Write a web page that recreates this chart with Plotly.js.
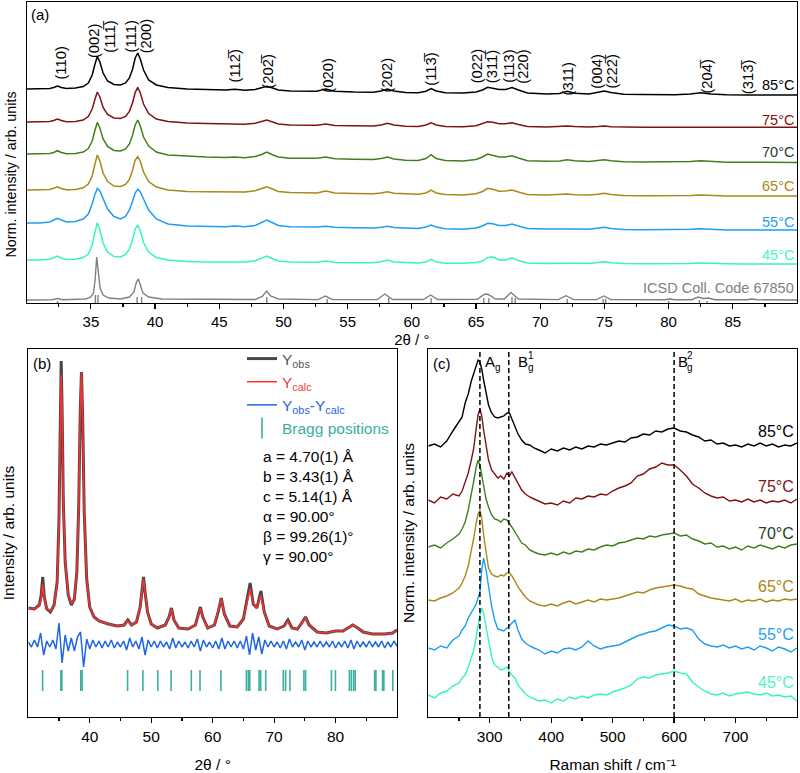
<!DOCTYPE html>
<html><head><meta charset="utf-8">
<script src="https://cdn.plot.ly/plotly-3.0.1.min.js"></script>
<style>html,body{margin:0;padding:0;background:#fff}#chart{width:800px;height:773px}</style>
</head><body><div id="chart"></div>
<script>
// ---------------- Panel (a): XRD patterns ----------------
const xrdAngles = [30,31,31.8,32.1,32.4,32.7,33.1,33.8,34.4,34.8,
35.1,35.3,35.5,35.7,35.95,36.3,36.8,37.3,37.7,38.0,
38.25,38.45,38.65,38.85,39.1,39.5,40.1,41,42.5,44,
45.5,46.2,47,47.8,48.3,48.7,49.1,49.6,50.5,51.5,
52.6,53.3,54,55.5,57,57.6,58.1,58.6,59.5,60.5,
61.1,61.5,61.9,62.6,64,65,65.5,65.9,66.3,66.8,
67.3,67.8,68.3,69,70.5,71.5,72.1,72.7,73.8,74.5,
75.0,75.5,76.5,78,79.5,80.5,81.7,82.5,83.3,84.5,
86,87.5,89,90];
const xrdTemps = ['85°C','75°C','70°C','65°C','55°C','45°C'];
const xrd85 = [0,0,0.5,1.5,3,1.5,0.5,1,2.5,6,
14,24,32.5,27,16,8,4.5,4,6,11,
20,31,36,30,19,9,4,1.5,0,-0.5,
-1,-0.3,-1.3,-0.5,1.2,2.8,1.2,-1,-2,-2.3,
-2.2,0,-2.3,-3,-3.2,-2,0,-2,-3.5,-3.7,
-2.2,0.5,-2,-3.8,-4,-3,-1,1.7,1,-0.5,
-0.5,1.4,-1,-4,-5,-4.5,-2.2,-4.2,-5,-3.5,
-1.9,-3.5,-5.3,-5.6,-5.7,-5.7,-5,-3.8,-5,-5.8,
-6,-6,-6,-6];
const xrd75 = [0,0,0.5,1.5,3,1.5,0.3,0.5,2,5.5,
13,22,30,25,14.5,7.5,4,3.5,5.5,10.5,
19.5,29.5,34.7,29,18,8.5,3,0.5,-1,-1.5,
-2,-1.5,-2.2,-1.2,0.5,2,0.3,-2,-3,-3.3,
-3.2,-2,-3.4,-3.8,-4,-3,-1.3,-3,-4.2,-4.4,
-3,-0.7,-3,-4.5,-4.7,-3.8,-1.8,0.3,-0.3,-1.8,
-1.8,-0.7,-2.5,-4.5,-5,-4.7,-4,-4.6,-5,-4.5,
-4,-4.7,-5.2,-5.3,-5.3,-5.3,-5,-4.6,-5,-5.3,
-5.3,-5.3,-5.3,-5.3];
const xrd70 = [0,0,0.5,1.5,3.3,1.5,0.3,0.5,2,5.5,
13,23,31.5,26,15,7.5,3.5,3,5,10,
19,29,34,28,17,8,2,-1,-2.3,-3,
-3.5,-3,-3.7,-2.5,-0.5,2,-0.5,-3,-4.2,-4.5,
-4.3,-3,-4.7,-5.3,-5.5,-4.5,-3,-5,-6.3,-6.5,
-4.5,-0.7,-4.5,-6.5,-7,-5.5,-3,0,-1,-3,
-3,-1.7,-4,-6.8,-7.3,-7,-5.7,-6.8,-7.5,-6.5,
-5.7,-6.8,-7.7,-8,-8,-8,-7.5,-6.7,-7.5,-8.2,
-8.3,-8.5,-8.5,-8.5];
const xrd65 = [0,0,0.5,1.8,3.3,1.5,0.3,0.5,2.2,6,
14,25,35,29,17,8.5,4,3.5,5.5,10.5,
20,30,33.3,28.5,18,8.5,3,0,-1.5,-1.8,
-2,-1.5,-2,-0.8,1.5,3.3,1.2,-1.5,-2.5,-3,
-3,-1,-3,-3.5,-3.7,-3,-1.7,-3.2,-4,-4.2,
-3,0,-3,-4.5,-5,-3.8,-1.5,1.7,0.8,-1.3,
-1,0,-2,-4.5,-5,-4.8,-4,-4.8,-5,-4.3,
-3.3,-4.5,-5.5,-5.7,-5.8,-5.8,-5.5,-5,-5.7,-6,
-6,-6,-6,-6];
const xrd55 = [0,0,1,3,4.7,3,1,1.5,4,9,
19,28,34.7,32,24,14,6.5,4,6.5,13,
22,30,33.7,31,24,13,4,-1,-3,-3.5,
-3.7,-3,-3.8,-2.5,0.5,3,0.5,-2.5,-3.8,-4.2,
-4,-3.3,-4.3,-4.8,-5,-4.3,-3.3,-4.5,-5.3,-5.5,
-4,-2,-4,-5.8,-6.3,-5,-3,-0.3,-0.8,-2.5,
-2.5,-1,-3,-5.5,-6,-6,-5.3,-6,-6.3,-5.3,
-4.3,-5.5,-6.5,-6.8,-6.8,-6.8,-6.3,-5.8,-6.5,-7,
-7,-7,-7,-7];
const xrd45 = [0,0,0.8,2.5,4,2,0.5,0.8,2.5,6,
15,27,37.3,30,17,8,3.5,3,5.5,11,
20.5,31,35,29,17.5,8,2.5,0,-1.5,-2,
-2,-1.5,-2,-0.8,2,4,1.5,-1,-2,-2.3,
-2.3,-1,-2.4,-2.7,-2.7,-1.8,0,-2,-2.8,-3,
-2,0.7,-2,-3.2,-3.3,-2.5,-1,2.5,3,0,
0,2.3,-0.5,-3,-3.5,-3.3,-2.7,-3.3,-3.5,-2.8,
-1.7,-2.8,-3.5,-3.7,-3.8,-3.8,-3.5,-3,-3.5,-3.8,
-4,-4,-4,-4];
const xrdOffsets = [214,181,149,113,80,43];

// reference pattern ICSD 67850
const icsdAngles = [30,32.0,32.4,32.8,34.6,35.0,35.2,35.33,35.45,35.57,35.72,35.95,36.4,37.3,
38.0,38.35,38.55,38.7,38.85,39.05,39.5,40.5,47.8,48.35,48.68,49.0,49.6,52.7,53.25,53.8,
57.3,57.9,58.5,60.9,61.47,62.0,65.1,65.62,65.82,66.02,66.5,67.2,67.72,68.3,71.4,72.0,72.6,
74.4,74.95,75.5,79.7,80.1,80.5,81.8,82.3,82.7,83.1,83.6,86.1,86.5,86.9,90];
const icsdIntensity = [0,0.3,1.5,0.3,1,3,7,20,43,30,12,5,2,1,
3,8,18,21,15,7,3,1,0.5,3.5,9,4,1,0.4,4,0.5,
0.4,6,0.5,0.5,5,0.5,0.6,5.5,6,5,1,1,7.5,1,0.4,4.3,0.4,
0.4,4,0.4,0.2,1,0.2,0.3,3,1.5,2,0.3,0.2,1,0.2,0];
const icsdOffset = 3;
const icsdStickAngles = [32.4,35.35,35.55,38.6,38.95,48.7,53.4,58.2,61.5,65.6,66.0,67.8,68.05,72.1,74.9,75.1,80.0,82.4,83.0];
const icsdStickHeights = [2,8,8,6,6,6,4,5,5,5,5,6,5,4,4,4,2,3,2];

const hklLabels = ['(110)','(002)','(111\u0305)','(111)','(200)','(112\u0305)','(202\u0305)','(020)','(202)','(113\u0305)',
'(022)','(311\u0305)','(113)','(220)','(311)','(004)','(222\u0305)','(204\u0305)','(313\u0305)'];
const hklAngles = [32.64,35.25,36.47,38.16,39.32,46.19,48.77,53.44,58.1,61.47,65.1,66.26,67.55,68.64,72.2,74.4,75.56,82.96,86.2];
const xrdTicks = [35,40,45,50,55,60,65,70,75,80,85];
const xrdMinorTicks = [32.5,37.5,42.5,47.5,52.5,57.5,62.5,67.5,72.5,77.5,82.5,87.5];

// ---------------- Panel (b): Rietveld refinement ----------------
const rietAngles = [30,31,31.8,32.1,32.35,32.6,33,33.6,34.2,34.7,
35.0,35.2,35.35,35.5,35.7,36.0,36.5,37.0,37.5,37.9,
38.2,38.45,38.65,38.85,39.1,39.5,40.0,40.7,41.5,43,
44.5,45.6,46.2,46.8,47.6,48.2,48.5,48.75,49.0,49.4,
50.0,51,52.3,52.9,53.3,53.7,54.5,56,57.2,57.7,
58.0,58.4,59.2,60.3,60.9,61.4,61.9,62.8,64,65.0,
65.6,66.1,66.6,67.2,67.85,68.4,69.2,70.5,71.6,72.25,
72.9,73.8,74.6,75.1,75.7,77,78.5,80,81.2,82.0,
82.8,83.6,84.5,86,88,89.3,90];
const yObs = [109,108,112,122,140,120,108,105,112,135,
200,295,356,308,215,155,122,112,118,145,
210,305,345,300,205,138,110,100,96,93,
91,92,97,92,95,110,128,140,125,105,
93,89,92,100,109,97,89,88,92,103,
110,100,89,92,105,119,103,91,90,98,
116,134,113,109,126,105,91,88,91,97,
89,88,95,100,92,85,84,86,86,89,
92,89,85,83,83,84,87];
const yCalc = [109,108,111,118,133,118,108,106,112,133,
195,285,342,305,215,155,122,113,118,145,
210,305,345,300,205,138,110,100,96,93,
91,92,96,92,95,110,128,138,125,105,
93,89,92,100,108,97,89,88,92,103,
109,100,89,92,105,118,103,91,90,98,
115,128,113,109,122,105,91,88,91,96,
89,88,95,99,92,85,84,86,86,89,
92,89,85,83,83,84,86];
const diffAngles = [30,30.5,31,31.5,32,32.5,33,33.5,34,34.5,
35,35.5,36,36.5,37,37.5,38,38.5,39,39.5,
40,40.5,41,41.5,42,42.5,43,43.5,44,44.5,
45,45.5,46,46.5,47,47.5,48,48.5,49,49.5,
50,50.5,51,51.5,52,52.5,53,53.5,54,54.5,
55,55.5,56,56.5,57,57.5,58,58.5,59,59.5,
60,60.5,61,61.5,62,62.5,63,63.5,64,64.5,
65,65.5,66,66.5,67,67.5,68,68.5,69,69.5,
70,70.5,71,71.5,72,72.5,73,73.5,74,74.5,
75,75.5,76,76.5,77,77.5,78,78.5,79,79.5,
80,80.5,81,81.5,82,82.5,83,83.5,84,84.5,
85,85.5,86,86.5,87,87.5,88,88.5,89,89.5,90];
const yDiff = [75,70,77,70,84,62,76,70,77,68,
94,54,82,66,79,66,80,85,50,78,
68,77,70,76,69,76,70,77,69,75,
70,76,67,79,70,76,68,80,62,77,
70,76,69,76,70,75,68,79,69,76,
70,75,69,76,70,78,66,77,70,75,
69,76,68,79,68,76,70,76,69,76,
68,81,62,84,67,80,63,77,70,76,
70,75,69,76,68,78,70,75,70,77,
67,76,70,75,70,76,70,75,70,76,
69,75,70,76,69,77,68,76,70,75,
70,76,70,75,70,76,69,75,70,76,71];
const braggPositions = [32.33,35.30,35.46,38.54,38.76,46.16,48.65,51.07,53.24,56.53,57.94,61.34,
65.5,65.82,66.04,67.55,67.82,68.63,71.5,71.88,72.58,74.85,75.12,79.33,79.98,
82.25,82.57,82.94,83.2,86.36,86.57,87.65,87.86,89.32];
const braggLevel = 36.5;
const cellParams = ['a = 4.70(1) Å','b = 3.43(1) Å','c = 5.14(1) Å','α = 90.00°','β = 99.26(1)°','γ = 90.00°'];
const rietTicks = [40,50,60,70,80];
const rietMinorTicks = [35,45,55,65,75,85];

// ---------------- Panel (c): Raman spectra ----------------
const ramanShift = [200,210,220,230,240,250,255,260,265,270,
274,278,281,284,287,290,294,298,303,308,313,318,323,328,
332,336,341,346,352,358,365,372,380,
390,400,410,420,430,440,450,460,470,480,
490,500,510,520,530,540,550,560,570,580,
590,600,610,620,630,640,650,660,670,680,
690,700,710,720,730,740,750,760,770,780,790,800];
const raman85 = [0,2,-1,5,15,25, 29,43,52,65, 73,81,86,84,77,66, 54,41,33,29,28,29,30,33,
33,27,19,12,6,2,1,-2,-4, -7,-3,-5,-2,-4,-1,-3,0,-1,2, 1,3,5,4,8,9,12,11,15,14,
17,18,15,14,11,9,5,6,2,3, 0,1,-1,2,0,3,0,2,-1,1, 0,3];
const raman75 = [0,-3,3,1,6,4, 9,18,27,40, 52,72,85,91,84,70, 55,40,30,26,22,24,21,27,
24,28,22,16,10,6,3,1,-1, -4,-3,-5,-1,-3,2,1,4,3,6, 5,9,12,14,17,24,26,31,33,37,
35,35,30,24,16,12,7,4,2,3, -1,0,-2,1,-2,0,-3,-1,-2,0, -3,1];
const raman70 = [0,2,-1,4,8,13, 18,25,37,52, 66,80,87,82,72,58, 48,40,32,28,27,25,28,27,
24,20,15,10,4,2,-3,-5,-7, -8,-6,-8,-5,-7,-4,-5,-2,-3,0, 2,1,4,5,7,9,8,11,10,12,
13,14,11,12,8,6,3,4,0,1, -2,0,-3,1,-1,2,0,-2,1,-1, 2,3];
const raman65 = [0,-1,2,4,7,12, 17,24,34,48, 62,77,86,90,82,65, 46,32,26,24,23,25,24,27,
27,24,19,13,8,3,-1,-3,-5, -6,-4,-6,-3,-1,-4,-2,0,-2,1, 0,1,2,4,6,8,7,10,12,13,
14,15,14,12,11,6,4,2,1,0, -1,1,-2,0,-1,1,-2,0,-1,1, 0,1];
const raman55 = [0,-2,2,0,8,12, 18,22,30,36, 40,44,50,56,78,90, 78,62,42,28,19,18,17,20,
22,25,28,18,9,5,2,0,-2, -6,-3,-5,-1,0,-2,1,7,2,-1, 1,2,3,6,9,12,14,16,17,20,
23,22,19,20,18,9,4,2,1,3, 0,2,-1,1,-2,2,0,-3,1,-1, -4,0];
const raman45 = [0,-3,2,4,9,12, 17,20,28,38, 45,58,70,80,87,82, 68,54,38,30,28,25,26,28,
23,20,17,10,5,1,-2,-4,-6, -5,-8,-4,-6,-2,-4,-1,-3,0,1, 0,3,5,7,10,16,18,17,20,21,
22,24,22,21,13,8,4,1,0,2, -1,1,2,3,1,0,2,-1,0,-2, -1,-6];
const ramanOffsets = [271,217,170,117,69,22];
const ramanModes = [284,331,600];
const ramanTicks = [300,400,500,600,700];
const ramanMinorTicks = [250,350,450,550,650,750];

// ---------------- styling ----------------
const FONT = 'Liberation Sans, Arial, Helvetica, sans-serif';
const W = 800, H = 773;
const PX = v => v / W, PY = v => 1 - v / H;
const tempColors = ['#000000','#7f1212','#3f7f1f','#ad8618','#1c9ff2','#33f5c2'];
const tempTextColors = ['#000000','#7f1212','#24402a','#ad8618','#1c9ff2','#4af5c8'];
const xrdCurves = [xrd85,xrd75,xrd70,xrd65,xrd55,xrd45];
const ramanCurves = [raman85,raman75,raman70,raman65,raman55,raman45];

const traces = [];
xrdCurves.forEach((c,i)=>traces.push({type:'scatter',mode:'lines',x:xrdAngles,y:c.map(v=>v+xrdOffsets[i]),
  line:{color:tempColors[i],width:1.5},xaxis:'x',yaxis:'y',showlegend:false,hoverinfo:'skip'}));
traces.push({type:'scatter',mode:'lines',x:icsdAngles,y:icsdIntensity.map(v=>v+icsdOffset),
  line:{color:'#808080',width:1.4},xaxis:'x',yaxis:'y',showlegend:false,hoverinfo:'skip'});
const sx=[],sy=[];
icsdStickAngles.forEach((a,i)=>{sx.push(a,a,null);sy.push(0,icsdStickHeights[i],null);});
traces.push({type:'scatter',mode:'lines',x:sx,y:sy,line:{color:'#808080',width:1.4},xaxis:'x',yaxis:'y',showlegend:false,hoverinfo:'skip'});

traces.push({type:'scatter',mode:'lines',x:rietAngles,y:yObs,name:'<span style="color:#555555">Y<sub>obs</sub></span>',
  line:{color:'#474747',width:3},xaxis:'x2',yaxis:'y2'});
traces.push({type:'scatter',mode:'lines',x:rietAngles,y:yCalc,name:'<span style="color:#f03a3a">Y<sub>calc</sub></span>',
  line:{color:'#ff2e2e',width:1.5},xaxis:'x2',yaxis:'y2'});
traces.push({type:'scatter',mode:'lines',x:diffAngles,y:yDiff,name:'<span style="color:#2266dd">Y<sub>obs</sub>-Y<sub>calc</sub></span>',
  line:{color:'#1f66e0',width:1.5},xaxis:'x2',yaxis:'y2'});
traces.push({type:'scatter',mode:'markers',x:braggPositions,y:braggPositions.map(()=>braggLevel),name:'<span style="color:#3aae9f">Bragg positions</span>',
  marker:{symbol:'line-ns',size:15,color:'#3aae9f',line:{width:1.6,color:'#3aae9f'}},xaxis:'x2',yaxis:'y2'});

ramanCurves.forEach((c,i)=>traces.push({type:'scatter',mode:'lines',x:ramanShift,y:c.map(v=>v+ramanOffsets[i]),
  line:{color:tempColors[i],width:1.4},xaxis:'x3',yaxis:'y3',showlegend:false,hoverinfo:'skip'}));

const axisBase = {showline:true,linecolor:'#000',linewidth:1.2,mirror:true,ticks:'outside',ticklen:5,tickwidth:1.2,
  tickcolor:'#000',showgrid:false,zeroline:false,fixedrange:true};
const yBase = {showline:true,linecolor:'#000',linewidth:1.2,mirror:true,ticks:'',showticklabels:false,showgrid:false,zeroline:false,fixedrange:true};
const minor = vals => ({tickmode:'array',tickvals:vals,ticks:'outside',ticklen:3,tickwidth:1.2,tickcolor:'#000',showgrid:false});

const annotations = [];
function txt(text, x, y, o){ annotations.push(Object.assign({xref:'paper',yref:'paper',x:PX(x),y:PY(y),text,showarrow:false,
  xanchor:'left',yanchor:'middle',font:{size:15,color:'#000',family:FONT}},o||{})); }
txt('(a)',29,14);
txt('(b)',31,363);
txt('(c)',431,363);
// hkl labels
const hklCenters = [63,41,37,36,36,66,71,75,75,69,66,66,66,66,78,71,71,76,77];
hklLabels.forEach((t,i)=>annotations.push({xref:'x',yref:'paper',x:hklAngles[i],y:PY(hklCenters[i]),text:t,showarrow:false,
  textangle:-90,xanchor:'center',yanchor:'middle',font:{size:14.8,color:'#000',family:FONT}}));
// temperature labels
const xrdLabelY = [85,120,151.7,186,221.7,255];
xrdTemps.forEach((t,i)=>txt(t,796,xrdLabelY[i],{xanchor:'right',font:{size:14.5,color:tempTextColors[i],family:FONT}}));
txt('ICSD Coll. Code 67850',796,288.3,{xanchor:'right',font:{size:14.5,color:'#808080',family:FONT}});
const ramanLabelY = [431.7,486,533,586.7,634,682.7];
xrdTemps.forEach((t,i)=>txt(t,796,ramanLabelY[i],{xanchor:'right',font:{size:16,color:tempTextColors[i],family:FONT}}));
// cell parameters
cellParams.forEach((t,i)=>txt(t,261,456.7+20*i,{font:{size:15.5,color:'#000',family:FONT}}));
// Raman modes
txt('A',483,361,{font:{size:15,color:'#000',family:FONT}});
txt('g',493,367,{font:{size:10,color:'#000',family:FONT}});
txt('B',516,361,{font:{size:15,color:'#000',family:FONT}});
txt('1',525.5,356,{font:{size:10,color:'#000',family:FONT}});
txt('g',525.5,367,{font:{size:10,color:'#000',family:FONT}});
txt('B',675.5,361,{font:{size:15,color:'#000',family:FONT}});
txt('2',685,356,{font:{size:10,color:'#000',family:FONT}});
txt('g',685,367,{font:{size:10,color:'#000',family:FONT}});
// panel (a) y title
txt('Norm. intensity / arb. units',10,174.5,{textangle:-90,xanchor:'center',font:{size:14.3,color:'#000',family:FONT}});

const shapes = ramanModes.map(m=>({type:'line',xref:'x3',yref:'y3 domain',x0:m,x1:m,y0:0,y1:1,
  line:{color:'#000',width:1.5,dash:'5px,3px'}}));

const layout = {
  width:W,height:H,autosize:false,margin:{l:0,r:0,t:0,b:0},
  paper_bgcolor:'#ffffff',plot_bgcolor:'rgba(0,0,0,0)',
  font:{family:FONT,size:15,color:'#000'},
  showlegend:true,
  legend:{x:PX(242),y:PY(342),xanchor:'left',yanchor:'top',bgcolor:'rgba(0,0,0,0)',borderwidth:0,
    font:{size:15.5,family:FONT},tracegroupgap:0,itemwidth:30},
  xaxis:Object.assign({},axisBase,{domain:[PX(26.7),PX(797)],range:[30,90],anchor:'y',tickmode:'array',tickvals:xrdTicks,
    minor:minor(xrdMinorTicks),tickfont:{size:15},title:{text:'2θ / °',font:{size:15},standoff:5}}),
  yaxis:Object.assign({},yBase,{domain:[PY(303),PY(2)],range:[0,301],anchor:'x'}),
  xaxis2:Object.assign({},axisBase,{domain:[PX(28.3),PX(397)],range:[30,90],anchor:'y2',tickmode:'array',tickvals:rietTicks,
    minor:minor(rietMinorTicks),tickfont:{size:15.5},title:{text:'2θ / °',font:{size:15.5},standoff:17}}),
  yaxis2:Object.assign({},yBase,{domain:[PY(717),PY(349)],range:[0,368],anchor:'x2',
    title:{text:'Intensity / arb. units',font:{size:15.5},standoff:8}}),
  xaxis3:Object.assign({},axisBase,{domain:[PX(428.3),PX(797)],range:[200,800],anchor:'y3',tickmode:'array',tickvals:ramanTicks,
    minor:minor(ramanMinorTicks),tickfont:{size:15.5},title:{text:'Raman shift / cm⁻¹',font:{size:15.5},standoff:17}}),
  yaxis3:Object.assign({},yBase,{domain:[PY(717),PY(349)],range:[0,368],anchor:'x3',
    title:{text:'Norm. intensity / arb. units',font:{size:15.5},standoff:8}}),
  annotations, shapes
};
Plotly.newPlot('chart',traces,layout,{staticPlot:true,displayModeBar:false});
</script></body></html>
